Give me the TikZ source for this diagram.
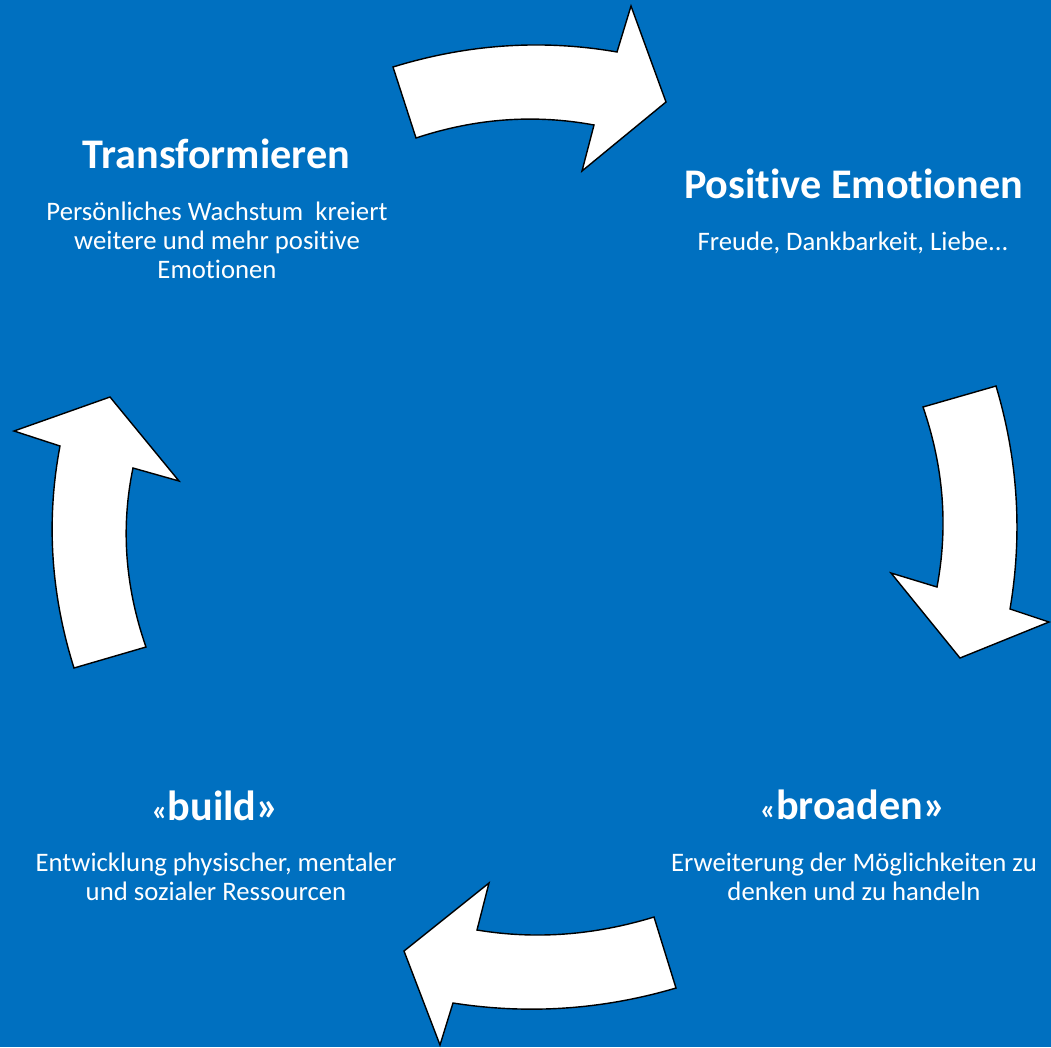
\documentclass[tikz,border=0pt]{standalone}
\usepackage{fontspec}
\setmainfont{Carlito}[RawFeature={-liga}]
\definecolor{bg}{HTML}{0070C0}
\begin{document}
\begin{tikzpicture}[x=0.025cm,y=-0.025cm,
  arrowshape/.style={fill=white,draw=black,line width=1pt,line join=miter},
  title/.style={text=white,font=\fontsize{30}{36}\selectfont\bfseries,anchor=base,inner sep=0},
  body/.style={text=white,font=\fontsize{19}{20.3}\selectfont,align=center,anchor=base,inner sep=0}]
\fill[bg] (0,0) rectangle (1051,1047);
\useasboundingbox (0,0) rectangle (1051,1047);
% top arrow
\draw[arrowshape] (393,67) .. controls (467.7,44) and (542.3,39) .. (617,52) -- (631,6) -- (666,102) -- (582,171) -- (594,125) .. controls (534.7,114) and (475.3,118.3) .. (416,138) -- cycle;
% right arrow
\draw[arrowshape] (923,407) -- (996,386) .. controls (1018,459.7) and (1022.7,534) .. (1010,609) -- (1049,622) -- (960,658) -- (891,573) -- (937,587) .. controls (948.3,527) and (943.7,467) .. (923,407) -- cycle;
% bottom arrow
\draw[arrowshape] (654,917) -- (676,988) .. controls (602.3,1009.7) and (528,1014.7) .. (453,1003) -- (440,1045) -- (404,951) -- (489,883) -- (477,930) .. controls (535.3,939.7) and (594.3,935.3) .. (654,917) -- cycle;
% left arrow
\draw[arrowshape] (74,668) -- (146,647) .. controls (125,586.7) and (120.7,527) .. (133,468) -- (179,481) -- (110,397) -- (14,431) -- (60,446) .. controls (46,520) and (50.7,594) .. (74,668) -- cycle;
% texts (multi-line nodes: base = last line)
\node[title] (t1) at (216.5,168) {Transformieren};
\node[body] (b1) at (217,278) {Persönliches Wachstum~ kreiert\\weitere und mehr positive\\Emotionen};
\node[title] (t2) at (853.5,198) {Positive Emotionen};
\node[body] (b2) at (853,250) {Freude, Dankbarkeit, Liebe...};
\node[title] (t3) at (215.6,820) {{\fontsize{21}{24}\selectfont«}build»};
\node[body] (b3) at (216,900) {Entwicklung physischer, mentaler\\und sozialer Ressourcen};
\node[title] (t4) at (853,819) {{\fontsize{21}{24}\selectfont«}broaden»};
\node[body] (b4) at (854,900) {Erweiterung der Möglichkeiten zu\\denken und zu handeln};
\end{tikzpicture}
\end{document}
